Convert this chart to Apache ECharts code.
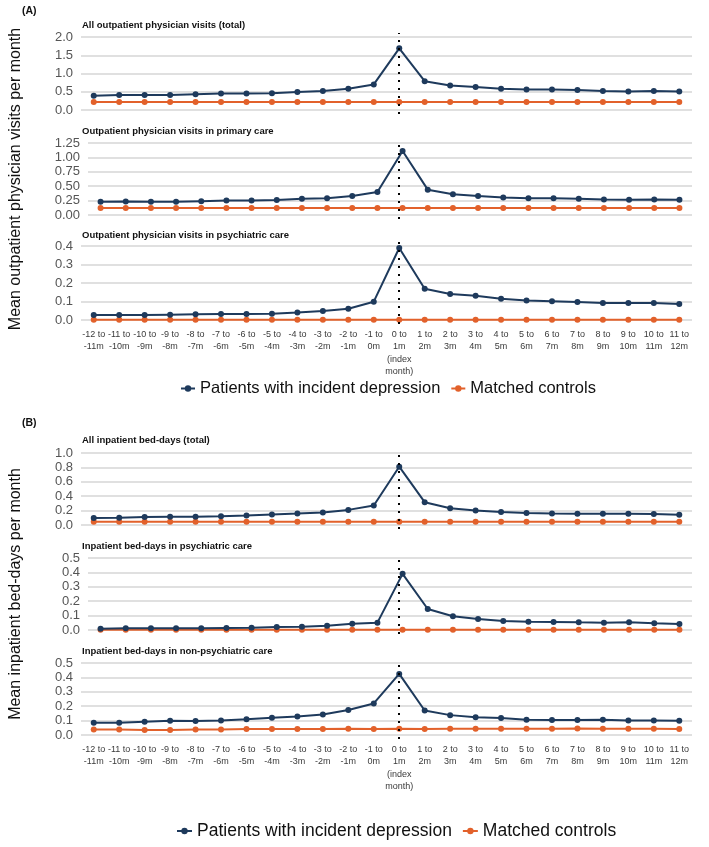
<!DOCTYPE html>
<html>
<head>
<meta charset="utf-8">
<script src="https://cdn.jsdelivr.net/npm/echarts@6/dist/echarts.min.js"></script>
<style>
html,body{margin:0;padding:0;background:#fff;}
#chart{width:709px;height:847px;}
</style>
</head>
<body>
<div id="chart"></div>
<script>
const categories = ['-12 to\n-11m','-11 to\n-10m','-10 to\n-9m','-9 to\n-8m','-8 to\n-7m','-7 to\n-6m','-6 to\n-5m','-5 to\n-4m','-4 to\n-3m','-3 to\n-2m','-2 to\n-1m','-1 to\n0m','0 to\n1m\n(index\nmonth)','1 to\n2m','2 to\n3m','3 to\n4m','4 to\n5m','5 to\n6m','6 to\n7m','7 to\n8m','8 to\n9m','9 to\n10m','10 to\n11m','11 to\n12m'];
const indexMonth = '0 to\n1m\n(index\nmonth)';
const seriesNames = ['Patients with incident depression','Matched controls'];

const outTotalPatients = [0.39,0.41,0.41,0.41,0.43,0.45,0.45,0.46,0.49,0.52,0.58,0.70,1.69,0.79,0.67,0.63,0.58,0.56,0.56,0.55,0.52,0.51,0.52,0.51];
const outTotalControls = [0.22,0.22,0.22,0.22,0.22,0.22,0.22,0.22,0.22,0.22,0.22,0.22,0.22,0.22,0.22,0.22,0.22,0.22,0.22,0.22,0.22,0.22,0.22,0.22];
const outPrimaryPatients = [0.23,0.235,0.23,0.23,0.24,0.25,0.25,0.26,0.28,0.29,0.33,0.40,1.11,0.44,0.36,0.33,0.305,0.29,0.29,0.28,0.27,0.265,0.27,0.265];
const outPrimaryControls = [0.12,0.12,0.12,0.12,0.12,0.12,0.12,0.12,0.12,0.12,0.12,0.12,0.12,0.12,0.12,0.12,0.12,0.12,0.12,0.12,0.12,0.12,0.12,0.12];
const outPsychPatients = [0.027,0.027,0.027,0.029,0.031,0.032,0.032,0.034,0.041,0.049,0.061,0.099,0.389,0.169,0.140,0.131,0.115,0.105,0.101,0.097,0.092,0.092,0.092,0.086];
const outPsychControls = [0.002,0.002,0.002,0.002,0.002,0.002,0.002,0.002,0.002,0.002,0.002,0.002,0.002,0.002,0.002,0.002,0.002,0.002,0.002,0.002,0.002,0.002,0.002,0.002];
const inTotalPatients = [0.097,0.10,0.11,0.115,0.115,0.12,0.133,0.147,0.16,0.175,0.21,0.27,0.81,0.317,0.234,0.20,0.18,0.165,0.16,0.156,0.156,0.156,0.152,0.143];
const inTotalControls = [0.045,0.045,0.045,0.045,0.045,0.045,0.045,0.045,0.045,0.045,0.045,0.045,0.045,0.045,0.045,0.045,0.045,0.045,0.045,0.045,0.045,0.045,0.045,0.045];
const inPsychPatients = [0.009,0.012,0.012,0.012,0.012,0.014,0.016,0.021,0.023,0.030,0.044,0.051,0.39,0.146,0.095,0.077,0.063,0.058,0.056,0.053,0.051,0.053,0.047,0.042];
const inPsychControls = [0.001,0.001,0.001,0.001,0.001,0.001,0.001,0.001,0.001,0.001,0.001,0.001,0.001,0.001,0.001,0.001,0.001,0.001,0.001,0.001,0.001,0.001,0.001,0.001];
const inNonPsychPatients = [0.085,0.085,0.092,0.099,0.097,0.101,0.11,0.12,0.129,0.143,0.173,0.219,0.424,0.17,0.138,0.124,0.118,0.106,0.104,0.104,0.106,0.101,0.101,0.099];
const inNonPsychControls = [0.039,0.039,0.035,0.035,0.039,0.039,0.041,0.041,0.041,0.041,0.044,0.041,0.044,0.041,0.044,0.044,0.044,0.044,0.044,0.046,0.044,0.044,0.044,0.041];

const panelTitles = ['All outpatient physician visits (total)','Outpatient physician visits in primary care','Outpatient physician visits in psychiatric care','All inpatient bed-days (total)','Inpatient bed-days in psychiatric care','Inpatient bed-days in non-psychiatric care'];
const yMax = [2.0, 1.25, 0.4, 1.0, 0.5, 0.5];
const yStep = [0.5, 0.25, 0.1, 0.2, 0.1, 0.1];
const yDecimals = [1, 2, 1, 1, 1, 1];
const panelData = [
  [outTotalPatients, outTotalControls],
  [outPrimaryPatients, outPrimaryControls],
  [outPsychPatients, outPsychControls],
  [inTotalPatients, inTotalControls],
  [inPsychPatients, inPsychControls],
  [inNonPsychPatients, inNonPsychControls]
];

// layout
const gridTops = [37, 143, 246, 453, 558, 663];
const gridHeights = [73, 72, 74, 72, 72, 72];
const titleTops = [20, 126, 230, 435, 541, 646];
const GL = 81, GR = 17;
const colors = ['#1e3a5c', '#e2612b'];
const sans = "'Liberation Sans', Arial, sans-serif";

const grid = [], xAxis = [], yAxis = [], series = [], title = [];

title.push({text:'(A)', left:22, top:6, padding:0, textStyle:{fontFamily:sans, fontSize:10.5, fontWeight:'bold', color:'#111'}});
title.push({text:'(B)', left:22, top:418, padding:0, textStyle:{fontFamily:sans, fontSize:10.5, fontWeight:'bold', color:'#111'}});

for (let i = 0; i < 6; i++) {
  grid.push({left:GL, right:GR, top:gridTops[i], height:gridHeights[i]});
  const isBottom = (i === 2 || i === 5);
  xAxis.push({
    type:'category', gridIndex:i, data:categories, boundaryGap:true,
    axisLine:{show:false}, axisTick:{show:false},
    axisLabel:{show:isBottom, interval:0, fontFamily:sans, fontSize:9, color:'#3a3a3a', lineHeight:12.5, margin:8}
  });
  const yName = i === 1 ? 'Mean outpatient physician visits per month' : (i === 4 ? 'Mean inpatient bed-days per month' : '');
  const dec = yDecimals[i];
  yAxis.push({
    type:'value', gridIndex:i, min:0, max:yMax[i], interval:yStep[i],
    name:yName, nameLocation:'middle', nameRotate:90, nameGap:64,
    nameTextStyle:{fontFamily:sans, fontSize:16, color:'#111'},
    axisLine:{show:false}, axisTick:{show:false},
    axisLabel:{fontFamily:sans, fontSize:13, color:'#555', margin:8, formatter:v => v.toFixed(dec)},
    splitLine:{lineStyle:{color:'#d6d6d6', width:1.6}}
  });
  title.push({text:panelTitles[i], left:82, top:titleTops[i], padding:0, textStyle:{fontFamily:sans, fontSize:9.5, fontWeight:'bold', color:'#111'}});
}

// hidden grids for the dotted index-month line (slightly taller than plot area)
for (let i = 0; i < 6; i++) {
  const g = 6 + i;
  grid.push({left:GL, right:GR, top:gridTops[i] - 4, height:gridHeights[i] + 8});
  xAxis.push({type:'category', gridIndex:g, data:categories, show:false});
  yAxis.push({type:'value', gridIndex:g, show:false, min:0, max:1, splitLine:{show:false}});
  series.push({
    type:'line', xAxisIndex:g, yAxisIndex:g, data:categories.map(() => null), silent:true, z:1,
    markLine:{silent:true, symbol:['none','none'], label:{show:false}, animation:false,
      lineStyle:{color:'#000', type:[2,6], width:2}, data:[{xAxis:indexMonth}]}
  });
}

for (let i = 0; i < 6; i++) {
  for (let s = 0; s < 2; s++) {
    series.push({
      name:seriesNames[s], type:'line', xAxisIndex:i, yAxisIndex:i,
      data:panelData[i][s], symbol:'circle', symbolSize:6, z: s === 0 ? 4 : 3,
      lineStyle:{color:colors[s], width:2}, itemStyle:{color:colors[s]}, animation:false
    });
  }
}

const option = {
  backgroundColor:'#fff',
  animation:false,
  title:title,
  legend:[
    {data:seriesNames, left:180, top:380, padding:0, itemWidth:14, itemHeight:8, itemGap:10,
     textStyle:{fontFamily:sans, fontSize:16.5, color:'#111'}},
    {data:seriesNames, left:176, top:822, padding:0, itemWidth:15, itemHeight:8, itemGap:10,
     textStyle:{fontFamily:sans, fontSize:17.5, color:'#111'}}
  ],
  grid:grid, xAxis:xAxis, yAxis:yAxis, series:series
};
const chart = echarts.init(document.getElementById('chart'), null, {renderer:'canvas'});
chart.setOption(option);
</script>
</body>
</html>
